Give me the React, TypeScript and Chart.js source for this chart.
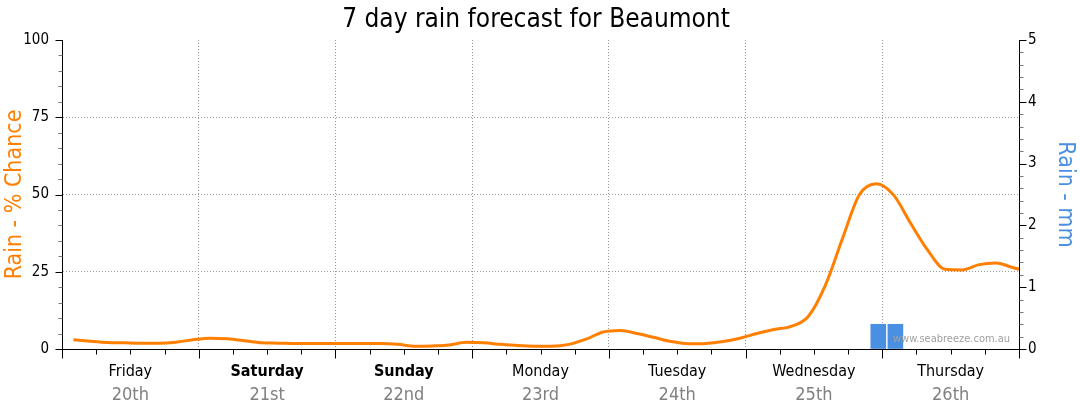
import React, { useEffect, useRef } from 'react';
import { Chart, registerables } from 'chart.js';

Chart.register(...registerables);

const TITLE = '7 day rain forecast for Beaumont';
const LEFT_TITLE = 'Rain - % Chance';
const RIGHT_TITLE = 'Rain - mm';
const WATERMARK = 'www.seabreeze.com.au';

const DAY_NAMES = ['Friday', 'Saturday', 'Sunday', 'Monday', 'Tuesday', 'Wednesday', 'Thursday'];
const DAY_DATES = ['20th', '21st', '22nd', '23rd', '24th', '25th', '26th'];
const DAY_BOLD = [false, true, true, false, false, false, false];

// hours since Friday 00:00
const CHANCE_HOURS = [
  2, 5, 8, 11, 14, 17, 20, 23, 26, 29, 32, 35, 38, 41, 44, 47, 50, 53, 56, 59,
  62, 65, 68, 71, 74, 77, 80, 83, 86, 89, 92, 95, 98, 101, 104, 107, 110, 113, 116, 119,
  122, 125, 128, 131, 134, 137, 140, 143, 146, 149, 152, 155, 158, 161, 164, 167, 170,
];
const CHANCE_VALUES = [
  3.0, 2.5, 2.1, 2.0, 1.9, 1.9, 2.2, 3.0, 3.5, 3.3, 2.7, 2.0, 1.9, 1.8, 1.8, 1.8, 1.8, 1.8, 1.8, 1.5,
  0.9, 1.0, 1.3, 2.2, 2.0, 1.5, 1.1, 0.9, 0.9, 1.5, 3.2, 5.5, 6.0, 5.0, 3.7, 2.4, 1.7, 1.8, 2.4, 3.5,
  5.0, 6.3, 7.3, 10.5, 20.6, 35.7, 50.0, 53.5, 49.8, 40.6, 31.9, 25.8, 25.6, 27.3, 27.8, 26.3, 25.0,
];

const RAIN_HOURS = [143.3, 146.3];
const RAIN_MM = [0.4, 0.4];

const LEFT_TICKS = [0, 25, 50, 75, 100];
const RIGHT_TICKS = [0, 1, 2, 3, 4, 5];

const ORANGE = '#ff7f00';
const BLUE = '#4a90e2';
const FONT = '"DejaVu Sans Condensed", "DejaVu Sans", sans-serif';

const decorPlugin = {
  id: 'decor',
  afterDraw(chart: any) {
    const ctx: CanvasRenderingContext2D = chart.ctx;
    const xs = chart.scales.x;
    const ys = chart.scales.y;
    const y1 = chart.scales.y1;
    const area = chart.chartArea;
    ctx.save();

    // title
    ctx.fillStyle = '#000';
    ctx.font = `26px ${FONT}`;
    ctx.textAlign = 'center';
    ctx.textBaseline = 'alphabetic';
    ctx.fillText(TITLE, 536, 27);

    ctx.lineWidth = 1;
    const bottom = Math.round(area.bottom) + 0.5;
    // x ticks every 6 hours
    for (let h = 0; h <= 168; h += 6) {
      const px = Math.round(xs.getPixelForValue(h)) + 0.5;
      const len = h % 24 === 0 ? 9 : 5;
      ctx.strokeStyle = '#000';
      ctx.beginPath();
      ctx.moveTo(px, bottom);
      ctx.lineTo(px, bottom + len);
      ctx.stroke();
    }
    // left ticks every 5
    const lx = Math.round(area.left) + 0.5;
    for (let v = 0; v <= 100; v += 5) {
      const py = Math.round(ys.getPixelForValue(v)) + 0.5;
      const major = v % 25 === 0;
      ctx.strokeStyle = major ? '#000' : '#777';
      ctx.beginPath();
      ctx.moveTo(lx - (major ? 7 : 4), py);
      ctx.lineTo(lx, py);
      ctx.stroke();
    }
    // right ticks every 0.2
    const rx = Math.round(area.right) + 0.5;
    for (let i = 0; i <= 25; i++) {
      const py = Math.round(y1.getPixelForValue(i / 5)) + 0.5;
      const major = i % 5 === 0;
      ctx.strokeStyle = major ? '#000' : '#777';
      ctx.beginPath();
      ctx.moveTo(rx, py);
      ctx.lineTo(rx + (major ? 7 : 4), py);
      ctx.stroke();
    }

    // day labels
    ctx.textAlign = 'center';
    for (let i = 0; i < DAY_NAMES.length; i++) {
      const cx = xs.getPixelForValue(24 * i + 12);
      ctx.fillStyle = '#000';
      ctx.font = `${DAY_BOLD[i] ? 'bold ' : ''}16px ${FONT}`;
      ctx.fillText(DAY_NAMES[i], cx, 376);
      ctx.fillStyle = '#808080';
      ctx.font = `18px ${FONT}`;
      ctx.fillText(DAY_DATES[i], cx, 400);
    }

    // watermark
    ctx.fillStyle = '#a0a0a0';
    ctx.font = `11px ${FONT}`;
    ctx.textAlign = 'left';
    ctx.fillText(WATERMARK, 893, 342);
    ctx.restore();
  },
};

export default function App() {
  const ref = useRef<HTMLCanvasElement | null>(null);
  useEffect(() => {
    const canvas = ref.current;
    if (!canvas) return;
    const chart = new Chart(canvas, {
      data: {
        datasets: [
          {
            type: 'line',
            label: LEFT_TITLE,
            data: CHANCE_HOURS.map((h, i) => ({ x: h, y: CHANCE_VALUES[i] })),
            borderColor: ORANGE,
            borderWidth: 3,
            pointRadius: 0,
            cubicInterpolationMode: 'monotone',
            yAxisID: 'y',
            order: 1,
          },
          {
            type: 'bar',
            label: RIGHT_TITLE,
            data: RAIN_HOURS.map((h, i) => ({ x: h, y: RAIN_MM[i] })),
            backgroundColor: BLUE,
            barThickness: 15,
            yAxisID: 'y1',
            order: 2,
          },
        ],
      } as any,
      options: {
        responsive: false,
        animation: false,
        layout: { padding: { top: 40, left: 0, right: 0, bottom: 0 } },
        plugins: {
          legend: { display: false },
          tooltip: { enabled: false },
          title: { display: false },
        },
        scales: {
          x: {
            type: 'linear',
            min: 0,
            max: 168,
            offset: false,
            position: 'bottom',
            afterFit: (s: any) => {
              s.height = 65;
            },
            ticks: { display: false, stepSize: 24, autoSkip: false },
            grid: {
              offset: false,
              drawTicks: false,
              color: (c: any) => (c.tick && c.tick.value > 0 && c.tick.value < 168 ? '#999' : 'rgba(0,0,0,0)'),
              lineWidth: 1,
            },
            border: { display: true, color: '#000', width: 1, dash: [1, 2] },
          },
          y: {
            type: 'linear',
            position: 'left',
            min: 0,
            max: 100,
            afterFit: (s: any) => {
              s.width = 62;
            },
            afterBuildTicks: (s: any) => {
              s.ticks = LEFT_TICKS.map((v) => ({ value: v }));
            },
            ticks: {
              autoSkip: false,
              padding: 13,
              color: '#000',
              font: { family: FONT, size: 15 },
            },
            grid: {
              drawTicks: false,
              color: (c: any) => (c.tick && c.tick.value > 0 && c.tick.value < 100 ? '#999' : 'rgba(0,0,0,0)'),
              lineWidth: 1,
            },
            border: { display: true, color: '#000', width: 1, dash: [1, 2] },
            title: {
              display: true,
              text: LEFT_TITLE,
              color: ORANGE,
              font: { family: FONT, size: 23 },
              padding: { top: 1, bottom: 0 },
            },
          },
          y1: {
            type: 'linear',
            position: 'right',
            min: 0,
            max: 5,
            afterFit: (s: any) => {
              s.width = 61;
            },
            afterBuildTicks: (s: any) => {
              s.ticks = RIGHT_TICKS.map((v) => ({ value: v }));
            },
            ticks: {
              autoSkip: false,
              padding: 9,
              color: '#000',
              font: { family: FONT, size: 15 },
            },
            grid: { drawOnChartArea: false, drawTicks: false },
            border: { display: true, color: '#000', width: 1 },
            title: {
              display: true,
              text: RIGHT_TITLE,
              color: BLUE,
              font: { family: FONT, size: 23 },
              padding: { top: 1, bottom: 0 },
            },
          },
        },
      },
      plugins: [decorPlugin],
    } as any);
    return () => chart.destroy();
  }, []);

  return (
    <div style={{ position: 'fixed', left: 0, top: 0, width: 1080, height: 414, background: '#fff' }}>
      <canvas ref={ref} width={1080} height={414} style={{ display: 'block' }} />
    </div>
  );
}
